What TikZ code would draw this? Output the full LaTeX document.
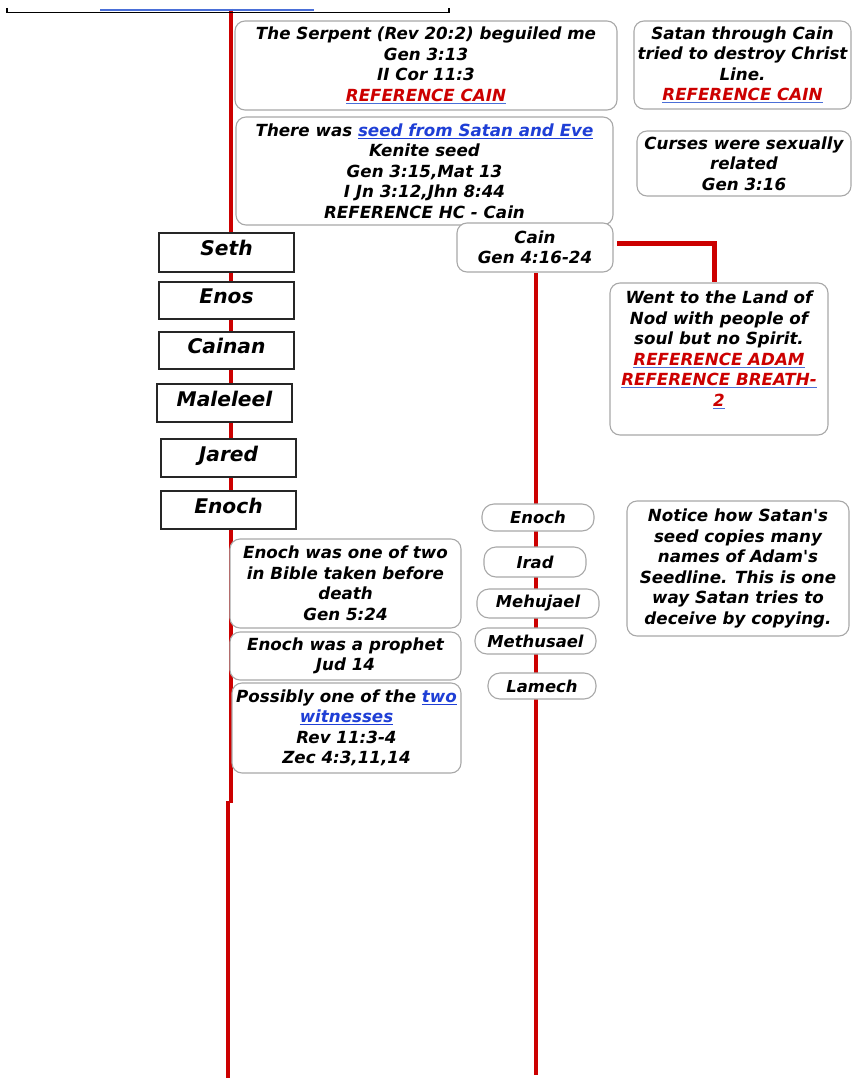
\documentclass[tikz,border=0pt]{standalone}
\usepackage{fontspec}
\newfontfamily\dv{DejaVu Sans}
\usetikzlibrary{backgrounds}
\definecolor{refred}{HTML}{CC0000}
\definecolor{linkblue}{HTML}{1F3FD6}
\definecolor{ulblue}{HTML}{4A6FD8}
\definecolor{boxgray}{HTML}{A8A8A8}
\newcommand\redref[1]{{\color{ulblue}\underline{\textcolor{refred}{#1}}}}
\newcommand\bluelink[1]{{\color{linkblue}\underline{#1}}}
\begin{document}
\begin{tikzpicture}[x=1pt,y=-1pt,
  note/.style={draw=boxgray, line width=1.1pt, rounded corners=10pt, fill=white, inner sep=0pt, align=center, font=\dv\fontsize{16.7}{20.5}\selectfont\bfseries\itshape},
  namebox/.style={draw=black!85, line width=1.4pt, fill=white, inner sep=0pt, align=center, font=\dv\fontsize{20.2}{22}\selectfont\bfseries\itshape, minimum width=135pt, text height=15pt, text depth=8.4pt},
  pill/.style={note, rounded corners=12pt, font=\dv\fontsize{16.4}{20}\selectfont\bfseries\itshape},
  lineage/.style={draw=refred, line width=4.2pt}
]
\useasboundingbox (0,0) rectangle (852,1078);

% top remnant
\coordinate (bl) at (7,8);
\coordinate (br) at (449,8);
\draw[black, line width=1.5pt] (bl) -- (7,12.5) -- (449,12.5) -- (br);
\coordinate (ul1) at (100,10);
\coordinate (ul2) at (314,10);
\draw[ulblue, line width=1.2pt] (ul1) -- (ul2);

% notes
\node[note, minimum width=382pt, minimum height=89pt] (serp) at (426,65.5)
  {The Serpent (Rev 20:2) beguiled me\\Gen 3:13\\II Cor 11:3\\\redref{REFERENCE CAIN}};
\node[note, minimum width=217pt, minimum height=88pt] (satan) at (742.5,65)
  {Satan through Cain\\tried to destroy Christ\\Line.\\\redref{REFERENCE CAIN}};
\node[note, minimum width=377pt, minimum height=108pt] (seed) at (424.5,171)
  {There was \bluelink{seed from Satan and Eve}\\Kenite seed\\Gen 3:15,Mat 13\\I Jn 3:12,Jhn 8:44\\REFERENCE HC - Cain};
\node[note, minimum width=214pt, minimum height=65pt] (curses) at (744,163.5)
  {Curses were sexually\\related\\Gen 3:16};
\node[note, minimum width=156pt, minimum height=49pt] (cain) at (535,247.5)
  {Cain\\Gen 4:16-24};
\node[note, minimum width=218pt, minimum height=152pt] (nod) at (719,359)
  {Went to the Land of\\Nod with people of\\soul but no Spirit.\\\redref{REFERENCE ADAM}\\\redref{REFERENCE BREATH-}\\\redref{2}\\\mbox{}};

% Adam's line
\node[namebox, minimum height=39pt] (seth) at (226.5,252.5) {Seth};
\node[namebox, minimum height=37pt] (enos) at (226.5,300.5) {Enos};
\node[namebox, minimum height=37pt] (cainan) at (226.5,350.5) {Cainan};
\node[namebox, minimum height=38pt] (maleleel) at (224.5,403) {Maleleel};
\node[namebox, minimum height=38pt] (jared) at (228.5,458) {Jared};
\node[namebox, minimum height=38pt] (enoch) at (228.5,510) {Enoch};

\node[note, minimum width=231pt, minimum height=89pt] (enA) at (345.5,583.5)
  {Enoch was one of two\\in Bible taken before\\death\\Gen 5:24};
\node[note, minimum width=231pt, minimum height=48pt] (enB) at (345.5,656)
  {Enoch was a prophet\\Jud 14};
\node[note, minimum width=229pt, minimum height=90pt] (enC) at (346.5,728)
  {Possibly one of the \bluelink{two}\\\bluelink{witnesses}\\Rev 11:3-4\\Zec 4:3,11,14};

% Cain's line
\node[pill, minimum width=112pt, minimum height=27pt] (cenoch) at (538,517.5) {Enoch};
\node[pill, minimum width=102pt, minimum height=30pt] (irad) at (535,562) {Irad};
\node[pill, minimum width=122pt, minimum height=29pt] (mehu) at (538,603.5) {Mehujael};
\node[pill, minimum width=121pt, minimum height=26pt] (methu) at (535.5,641) {Methusael};
\node[pill, minimum width=108pt, minimum height=26pt] (lamech) at (542,686) {Lamech};

\node[note, minimum width=222pt, minimum height=135pt] (notice) at (738,568.5)
  {Notice how Satan's\\seed copies many\\names of Adam's\\Seedline. This is one\\way Satan tries to\\deceive by copying.};

% lineage lines
\begin{scope}[on background layer]
\coordinate (ltop) at (231,9);
\coordinate (lmid) at (231,803);
\coordinate (lmid2) at (228,801);
\coordinate (lbot) at (228,1078);
\draw[lineage] (ltop) -- (lmid);
\draw[lineage] (lmid2) -- (lbot);
\coordinate (rbot) at (536,1075);
\draw[lineage] (cain.south -| rbot) -- (rbot);
\coordinate (cs) at (617,243.5);
\coordinate (cj) at (714.5,243.5);
\draw[lineage] (cs) -- (cj) -- (cj |- nod.north);
\end{scope}
\end{tikzpicture}
\end{document}
